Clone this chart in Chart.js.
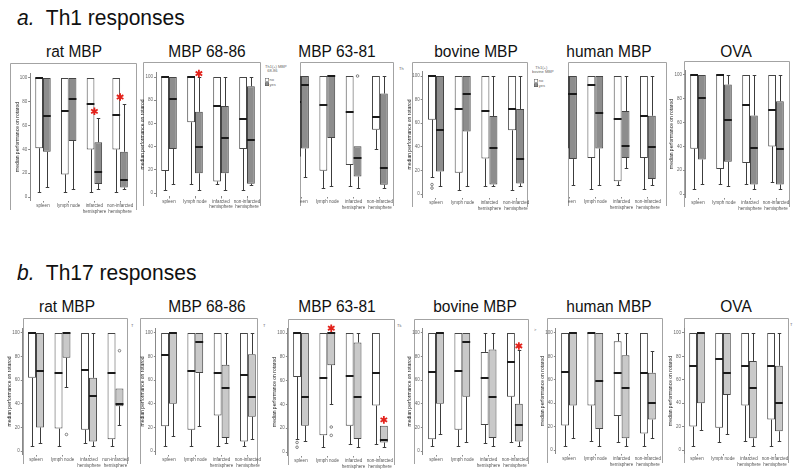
<!DOCTYPE html>
<html>
<head>
<meta charset="utf-8">
<script src="https://cdn.jsdelivr.net/npm/chart.js@4.4.1/dist/chart.umd.min.js"></script>
<style>
body { margin: 0; background: #fff; width: 800px; height: 470px; position: relative; overflow: hidden; font-family: "Liberation Sans", Arial, sans-serif; }
.h { position: absolute; font-size: 21px; line-height: 21px; color: #111; white-space: nowrap; transform: scaleY(1.06); }
.pt { position: absolute; font-size: 15.5px; line-height: 15.5px; color: #111; white-space: nowrap; transform: translateX(-50%) scaleY(1.12); }
.box { position: absolute; overflow: hidden; }
.box canvas { position: absolute; }
.tiny { position: absolute; font-size: 8px; line-height: 9px; color: #666; white-space: nowrap; transform: scale(0.5); transform-origin: 0 0; }
.sw { display: inline-block; width: 6px; height: 5px; border: 1px solid #555; margin-right: 1px; vertical-align: -1px; background: #fff; }
.sw.dk { background: #8d8d8d; }
</style>
</head>
<body>

<div class="h" style="left:17px;top:7px"><i>a.</i>&nbsp; Th1 responses</div>
<div class="h" style="left:17px;top:262px"><i>b.</i>&nbsp; Th17 responses</div>

<div class="pt" style="left:74px;top:43px">rat MBP</div>
<div class="pt" style="left:207px;top:43px">MBP 68-86</div>
<div class="pt" style="left:337px;top:43px">MBP 63-81</div>
<div class="pt" style="left:476px;top:43px">bovine MBP</div>
<div class="pt" style="left:609px;top:43px">human MBP</div>
<div class="pt" style="left:736px;top:43px">OVA</div>

<div class="pt" style="left:67px;top:298px">rat MBP</div>
<div class="pt" style="left:207px;top:298px">MBP 68-86</div>
<div class="pt" style="left:337px;top:298px">MBP 63-81</div>
<div class="pt" style="left:475px;top:298px">bovine MBP</div>
<div class="pt" style="left:609px;top:298px">human MBP</div>
<div class="pt" style="left:736px;top:298px">OVA</div>

<!-- legends -->
<div class="tiny" style="left:265px;top:64px">Th1(+) MBP<br>&nbsp;&nbsp;68-86<br><br><span class="sw"></span>no<br><span class="sw dk"></span>yes</div>
<div class="tiny" style="left:532px;top:65px">&nbsp;&nbsp;&nbsp;Th1(+)<br>bovine MBP<br><br>&nbsp;&nbsp;<span class="sw"></span>no<br>&nbsp;&nbsp;<span class="sw dk"></span>yes</div>

<!-- cropped legend pieces -->
<div class="tiny" style="left:399px;top:66px">Th</div>
<div class="tiny" style="left:131px;top:323px">T</div>
<div class="tiny" style="left:263px;top:323px">T</div>
<div class="tiny" style="left:397px;top:323px">Tk</div>
<div class="tiny" style="left:534px;top:327px">&gt;</div>
<div class="tiny" style="left:790px;top:322px">T</div>

<script>
// categorias e ticks
const categories = ['spleen', 'lymph node', ['infarcted', 'hemisphere'], ['non-infarcted', 'hemisphere']];
const yTicks = [0, 20, 40, 60, 80, 100];

// cada caixa: [min, q1, mediana, q3, max]
// Th1
const th1RatNo = [[4, 41, 100, 100, 100], [4, 19, 72, 100, 100], [4, 40, 78, 100, 100], [4, 40, 69, 100, 100]];
const th1RatYes = [[8, 38, 68, 100, 100], [7, 47, 82, 100, 100], [7, 11, 21, 46, 66], [7, 8, 14, 38, 78]];
const th1RatStars = [[2, -1, 72], [3, -1, 84]];

const th1M6886No = [[3, 19, 100, 100, 100], [8, 61, 100, 100, 100], [8, 10, 75, 100, 100], [3, 38, 64, 100, 100]];
const th1M6886Yes = [[8, 38, 81, 100, 100], [3, 17, 40, 70, 100], [3, 17, 47, 75, 100], [7, 8, 46, 92, 100]];
const th1M6886Stars = [[1, 1, 103]];

const th1M6381No = [[10, 31, 78, 100, 100], [4, 19, 75, 100, 100], [6, 24, 69, 100, 100], [38, 54, 65, 100, 100]];
const th1M6381Yes = [[14, 38, 92, 100, 100], [6, 47, 100, 100, 100], [4, 14, 30, 40, 40], [4, 7, 21, 85, 100]];
const th1M6381Out = [[2, 1, 100]];

const th1BovNo = [[14, 63, 100, 100, 100], [3, 18, 72, 100, 100], [7, 30, 70, 100, 100], [3, 54, 72, 100, 100]];
const th1BovYes = [[7, 19, 54, 100, 100], [7, 53, 85, 100, 100], [7, 8, 39, 66, 100], [7, 9, 30, 72, 100]];
const th1BovOut = [[0, 0, 8], [0, 0, 5]];

const th1HumNo = [[5, 38, 85, 100, 100], [3, 30, 92, 100, 100], [7, 10, 63, 100, 100], [3, 30, 66, 100, 100]];
const th1HumYes = [[7, 29, 85, 100, 100], [7, 38, 68, 100, 100], [21, 30, 40, 70, 100], [7, 12, 39, 66, 100]];

const th1OvaNo = [[4, 38, 100, 100, 100], [8, 21, 100, 100, 100], [8, 26, 75, 100, 100], [10, 40, 71, 100, 100]];
const th1OvaYes = [[8, 29, 81, 100, 100], [7, 27, 62, 92, 100], [4, 8, 39, 66, 100], [4, 8, 38, 78, 100]];

// Th17
const th17RatNo = [[4, 62, 100, 100, 100], [4, 19, 66, 100, 100], [7, 18, 69, 100, 100], [4, 10, 66, 100, 100]];
const th17RatYes = [[7, 20, 68, 100, 100], [54, 79, 100, 100, 100], [4, 8, 47, 62, 100], [22, 38, 40, 53, 53]];
const th17RatOut = [[1, 1, 14], [3, 1, 85]];

const th17M6886No = [[4, 21, 81, 100, 100], [4, 18, 68, 100, 100], [4, 30, 66, 100, 100], [4, 8, 64, 100, 100]];
const th17M6886Yes = [[13, 40, 100, 100, 100], [21, 66, 92, 100, 100], [7, 11, 53, 73, 100], [10, 29, 46, 82, 100]];

const th17M6381No = [[11, 63, 100, 100, 100], [4, 14, 62, 100, 100], [7, 22, 64, 100, 100], [7, 39, 66, 100, 100]];
const th17M6381Yes = [[9, 22, 46, 100, 100], [40, 73, 100, 100, 100], [4, 11, 46, 92, 100], [4, 8, 10, 22, 22]];
const th17M6381Out = [[0, 0, 8], [0, 0, 4], [1, 1, 21], [1, 1, 14]];
const th17M6381Stars = [[1, 1, 104], [3, 1, 27]];

const th17BovNo = [[4, 10, 67, 100, 100], [4, 18, 68, 100, 100], [7, 22, 62, 84, 100], [8, 46, 75, 100, 100]];
const th17BovYes = [[14, 40, 100, 100, 100], [8, 46, 92, 100, 100], [4, 11, 46, 86, 100], [4, 8, 22, 40, 86]];
const th17BovStars = [[3, 1, 89]];

const th17HumNo = [[3, 21, 67, 100, 100], [8, 38, 100, 100, 100], [7, 29, 66, 93, 100], [3, 14, 66, 100, 100]];
const th17HumYes = [[10, 38, 100, 100, 100], [3, 18, 59, 100, 100], [3, 10, 53, 81, 100], [10, 26, 40, 66, 85]];

const th17OvaNo = [[3, 20, 72, 100, 100], [7, 19, 78, 100, 100], [8, 38, 72, 100, 100], [3, 26, 72, 100, 100]];
const th17OvaYes = [[17, 40, 100, 100, 100], [14, 47, 66, 100, 100], [3, 10, 53, 76, 100], [8, 16, 40, 72, 100]];

const FONT = "'Liberation Sans', Arial, sans-serif";
const TH1_FILL = '#8d8d8d';
const TH17_FILL = '#c9c9c9';
const EDGE = '#454545';
const Y_MIN = -3, Y_MAX = 104, AXIS_W = 16, X_H = 14;

// desenha whiskers, medianas, outliers, asteriscos e a moldura
const boxPlotPlugin = {
    id: 'boxPlot',
    beforeDraw(chart, args, o) {
        const ctx = chart.ctx;
        ctx.save();
        ctx.strokeStyle = '#a3a3a3';
        ctx.lineWidth = 1;
        ctx.beginPath();
        ctx.moveTo(o.fl + 0.5, o.fb);
        ctx.lineTo(o.fl + 0.5, o.ft + 0.5);
        ctx.lineTo(o.fr + 0.5, o.ft + 0.5);
        ctx.lineTo(o.fr + 0.5, o.fb);
        ctx.stroke();
        ctx.restore();
    },
    afterDatasetsDraw(chart, args, o) {
        const ctx = chart.ctx;
        const ys = chart.scales.y, xs = chart.scales.x;
        ctx.save();
        chart.data.datasets.forEach((ds, di) => {
            const meta = chart.getDatasetMeta(di);
            ds.stats.forEach((st, i) => {
                const bar = meta.data[i];
                const x = Math.round(bar.x) + 0.5, w = bar.width, cap = w * 0.45;
                const [mn, q1, md, q3, mx] = st;
                ctx.strokeStyle = '#3c3c3c';
                ctx.lineWidth = 1;
                ctx.beginPath();
                if (mn < q1) {
                    const yy = Math.round(ys.getPixelForValue(mn)) + 0.5;
                    ctx.moveTo(x, ys.getPixelForValue(q1));
                    ctx.lineTo(x, yy);
                    ctx.moveTo(x - cap / 2, yy);
                    ctx.lineTo(x + cap / 2, yy);
                }
                if (mx > q3) {
                    const yy = Math.round(ys.getPixelForValue(mx)) + 0.5;
                    ctx.moveTo(x, ys.getPixelForValue(q3));
                    ctx.lineTo(x, yy);
                    ctx.moveTo(x - cap / 2, yy);
                    ctx.lineTo(x + cap / 2, yy);
                }
                ctx.stroke();
                ctx.strokeStyle = '#1a1a1a';
                ctx.lineWidth = 2;
                ctx.beginPath();
                const ym = Math.round(ys.getPixelForValue(md));
                ctx.moveTo(bar.x - w / 2, ym);
                ctx.lineTo(bar.x + w / 2, ym);
                ctx.stroke();
            });
        });
        // outliers
        ctx.strokeStyle = '#666';
        ctx.lineWidth = 0.8;
        (o.outliers || []).forEach(([ci, si, v]) => {
            const bar = chart.getDatasetMeta(si).data[ci];
            ctx.beginPath();
            ctx.arc(bar.x, ys.getPixelForValue(v), 1.3, 0, Math.PI * 2);
            ctx.stroke();
        });
        // asteriscos vermelhos
        ctx.strokeStyle = '#e3221b';
        ctx.lineWidth = 1.8;
        (o.stars || []).forEach(([ci, si, v]) => {
            const cx = si < 0 ? xs.getPixelForValue(ci) : chart.getDatasetMeta(si).data[ci].x;
            const cy = ys.getPixelForValue(v);
            ctx.beginPath();
            for (let k = 0; k < 3; k++) {
                const a = Math.PI / 2 + k * Math.PI / 3;
                ctx.moveTo(cx - 3.8 * Math.cos(a), cy - 3.8 * Math.sin(a));
                ctx.lineTo(cx + 3.8 * Math.cos(a), cy + 3.8 * Math.sin(a));
            }
            ctx.stroke();
        });
        ctx.restore();
    }
};

function makePanel(p) {
    const ppu = (p.y0 - p.y100) / 100;
    const chartLeft = p.c0 - p.s / 2;
    const chartRight = chartLeft + 4 * p.s;
    const chartTop = p.y100 - (Y_MAX - 100) * ppu;
    const chartBottom = p.y0 - Y_MIN * ppu;
    const cl = Math.floor(Math.min(p.fl, chartLeft - AXIS_W) - 1);
    const cr = Math.ceil(Math.max(p.fr, chartRight) + 2);
    const ct = p.ft - 1;
    const cb = Math.ceil(chartBottom + X_H + 2);
    const W = cr - cl, H = cb - ct;

    const box = document.createElement('div');
    box.className = 'box';
    const boxLeft = p.clip ? p.fl : cl;
    box.style.left = boxLeft + 'px';
    box.style.top = ct + 'px';
    box.style.width = (cr - boxLeft) + 'px';
    box.style.height = H + 'px';
    const cv = document.createElement('canvas');
    cv.width = W;
    cv.height = H;
    cv.style.left = (cl - boxLeft) + 'px';
    cv.style.top = '0px';
    cv.style.width = W + 'px';
    cv.style.height = H + 'px';
    box.appendChild(cv);
    document.body.appendChild(box);

    const barSet = (label, rows, fill) => ({
        label: label,
        data: rows.map(r => [r[1], r[3]]),
        stats: rows,
        backgroundColor: fill,
        borderColor: EDGE,
        borderWidth: 1,
        borderSkipped: false,
        categoryPercentage: 0.6,
        barPercentage: 1
    });

    new Chart(cv, {
        type: 'bar',
        data: {
            labels: categories,
            datasets: [barSet('no', p.no, '#ffffff'), barSet('yes', p.yes, p.fill)]
        },
        options: {
            responsive: false,
            animation: false,
            devicePixelRatio: 1,
            events: [],
            layout: {
                padding: {
                    left: chartLeft - AXIS_W - cl,
                    right: cr - chartRight,
                    top: chartTop - ct,
                    bottom: cb - chartBottom - X_H
                }
            },
            plugins: {
                legend: { display: false },
                tooltip: { enabled: false },
                boxPlot: {
                    fl: p.fl - cl, fr: p.fr - cl, ft: 0, fb: p.y0 + 13 - ct,
                    outliers: p.outliers, stars: p.stars
                }
            },
            scales: {
                x: {
                    afterFit: s => { s.height = X_H; },
                    ticks: { font: { size: 4.5, family: FONT, lineHeight: 1.15 }, color: '#555', padding: 1, maxRotation: 0, autoSkip: false },
                    grid: { drawOnChartArea: false, tickLength: 2, color: '#888', offset: false },
                    border: { display: false }
                },
                y: {
                    min: Y_MIN,
                    max: Y_MAX,
                    afterBuildTicks: s => { s.ticks = yTicks.map(v => ({ value: v })); },
                    afterFit: s => { s.width = AXIS_W; },
                    ticks: { font: { size: 4.5, family: FONT }, color: '#666', padding: 1 },
                    grid: { drawOnChartArea: false, tickLength: 2, color: '#888' },
                    border: { display: true, color: '#888' },
                    title: { display: true, text: 'median performance on rotarod', font: { size: 5, family: FONT }, color: '#222', padding: 0 }
                }
            }
        },
        plugins: [boxPlotPlugin]
    });
}

const panels = [
    { no: th1RatNo, yes: th1RatYes, fill: TH1_FILL, stars: th1RatStars, fl: 10, fr: 136, ft: 64, c0: 43, s: 25.7, y100: 78, y0: 197 },
    { no: th1M6886No, yes: th1M6886Yes, fill: TH1_FILL, stars: th1M6886Stars, fl: 143, fr: 260, ft: 63, c0: 169, s: 26, y100: 77, y0: 193 },
    { no: th1M6381No, yes: th1M6381Yes, fill: TH1_FILL, outliers: th1M6381Out, fl: 300, fr: 393, ft: 63, c0: 301, s: 26.3, y100: 76, y0: 193, clip: true },
    { no: th1BovNo, yes: th1BovYes, fill: TH1_FILL, outliers: th1BovOut, fl: 412, fr: 527, ft: 63, c0: 436, s: 26.7, y100: 76, y0: 194 },
    { no: th1HumNo, yes: th1HumYes, fill: TH1_FILL, fl: 568, fr: 666, ft: 63, c0: 569, s: 26.3, y100: 76, y0: 193, clip: true },
    { no: th1OvaNo, yes: th1OvaYes, fill: TH1_FILL, fl: 684, fr: 789, ft: 62, c0: 698, s: 26, y100: 75, y0: 194 },
    { no: th17RatNo, yes: th17RatYes, fill: TH17_FILL, outliers: th17RatOut, fl: 23, fr: 127, ft: 319, c0: 36, s: 26.5, y100: 333, y0: 451 },
    { no: th17M6886No, yes: th17M6886Yes, fill: TH17_FILL, fl: 140, fr: 257, ft: 319, c0: 169, s: 26.3, y100: 333, y0: 451 },
    { no: th17M6381No, yes: th17M6381Yes, fill: TH17_FILL, outliers: th17M6381Out, stars: th17M6381Stars, fl: 288, fr: 394, ft: 320, c0: 301, s: 26.3, y100: 333, y0: 452 },
    { no: th17BovNo, yes: th17BovYes, fill: TH17_FILL, stars: th17BovStars, fl: 414, fr: 528, ft: 320, c0: 436, s: 26.3, y100: 333, y0: 451 },
    { no: th17HumNo, yes: th17HumYes, fill: TH17_FILL, fl: 547, fr: 662, ft: 319, c0: 569, s: 26.3, y100: 333, y0: 450 },
    { no: th17OvaNo, yes: th17OvaYes, fill: TH17_FILL, fl: 684, fr: 788, ft: 319, c0: 697, s: 26, y100: 333, y0: 450 }
];

panels.forEach(makePanel);
</script>
</body>
</html>
